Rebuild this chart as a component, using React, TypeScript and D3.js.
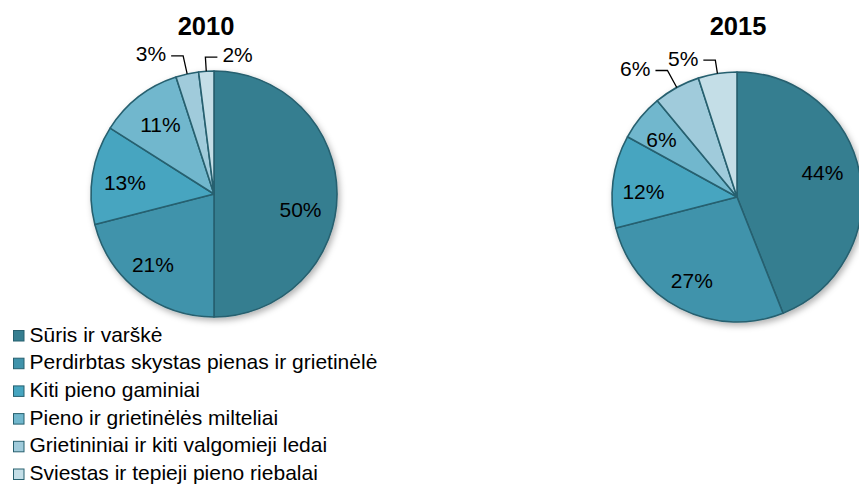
import React from "react";
import * as d3 from "d3";

const categories = [
  "Sūris ir varškė",
  "Perdirbtas skystas pienas ir grietinėlė",
  "Kiti pieno gaminiai",
  "Pieno ir grietinėlės milteliai",
  "Grietininiai ir kiti valgomieji ledai",
  "Sviestas ir tepieji pieno riebalai",
];
const years = ["2010", "2015"];
const values2010 = [50, 21, 13, 11, 3, 2];
const values2015 = [44, 27, 12, 6, 6, 5];

const colors = ["#367E90", "#4093AB", "#46A5C0", "#71B7CD", "#A0CBDB", "#C4DEE7"];
const edge = "#27606F";

// layout config (not data)
const pies = [
  { values: values2010, cx: 214, cy: 194, r: 123, titleX: 206,
    shift: [10.5, 3, -2, 0, 0, 0], lr: [0.715, 0.76, 0.73, 0.71, 0, 0],
    outside: [false, false, false, false, true, true], side: [0, 0, 0, 0, -1, 1], elbowR: [0, 0, 0, 0, 1.15, 1.115] },
  { values: values2015, cx: 737, cy: 197, r: 125, titleX: 738,
    shift: [-5, 1.5, -4, -2.6, 0, 0], lr: [0.71, 0.757, 0.75, 0.756, 0, 0],
    outside: [false, false, false, false, true, true], side: [0, 0, 0, 0, -1, -1], elbowR: [0, 0, 0, 0, 1.155, 1.108] },
];

const FONT = "'Liberation Sans', Arial, sans-serif";

function Pie({ cfg, title }: { cfg: any; title: string }) {
  const pie = d3.pie<number>().sort(null).value((d) => d).startAngle(0).endAngle(2 * Math.PI);
  const arcs = pie(cfg.values);
  const arc = d3.arc<d3.PieArcDatum<number>>().innerRadius(0).outerRadius(cfg.r);
  const pt = (ang: number, rad: number) => [rad * Math.sin(ang), -rad * Math.cos(ang)];
  return (
    <g transform={`translate(${cfg.cx},${cfg.cy})`}>
      <text x={cfg.titleX - cfg.cx} y={35 - cfg.cy} textAnchor="middle" fontWeight="bold" fontSize={25.5} fontFamily={FONT} fill="#000">
        {title}
      </text>
      <g filter="url(#shadow)">
        {arcs.map((a, i) => (
          <path key={i} d={arc(a) || ""} fill={colors[i]} stroke={edge} strokeWidth={1.6} strokeLinejoin="round" />
        ))}
      </g>
      {arcs.map((a, i) => {
        const mid = (a.startAngle + a.endAngle) / 2;
        const label = `${a.data}%`;
        if (!cfg.outside[i]) {
          const [x, y] = pt(mid + (cfg.shift[i] * Math.PI) / 180, cfg.lr[i] * cfg.r);
          return (
            <text key={i} x={x} y={y} dy="0.35em" textAnchor="middle" fontSize={21} fontFamily={FONT} fill="#000">
              {label}
            </text>
          );
        }
        const [ax, ay] = pt(mid, cfg.r);
        const [ex, ey] = pt(mid, cfg.elbowR[i] * cfg.r);
        const s = cfg.side[i];
        const hx = ex + s * 12;
        return (
          <g key={i}>
            <polyline points={`${ax},${ay} ${ex},${ey} ${hx},${ey}`} fill="none" stroke="#000" strokeWidth={1.3} />
            <text x={hx + s * 5} y={ey - 2} dy="0.35em" textAnchor={s < 0 ? "end" : "start"} fontSize={21} fontFamily={FONT} fill="#000">
              {label}
            </text>
          </g>
        );
      })}
    </g>
  );
}

export default function App() {
  const legendY = d3.scaleLinear().domain([0, 1]).range([341.5, 369.2]);
  return (
    <svg width={859} height={484} style={{ position: "absolute", left: 0, top: 0, background: "#fff" }}>
      <defs>
        <filter id="shadow" x="-20%" y="-20%" width="140%" height="140%">
          <feDropShadow dx={2} dy={3} stdDeviation={3} floodColor="#000" floodOpacity={0.3} />
        </filter>
      </defs>
      {pies.map((p, i) => (
        <Pie key={i} cfg={p} title={years[i]} />
      ))}
      <g>
        {categories.map((c, i) => (
          <g key={i}>
            <rect x={13.5} y={legendY(i) - 11} width={10.5} height={10.5} fill={colors[i]} stroke={edge} strokeWidth={1} />
            <text x={29.5} y={legendY(i)} fontSize={21} fontFamily={FONT} fill="#000">
              {c}
            </text>
          </g>
        ))}
      </g>
    </svg>
  );
}
